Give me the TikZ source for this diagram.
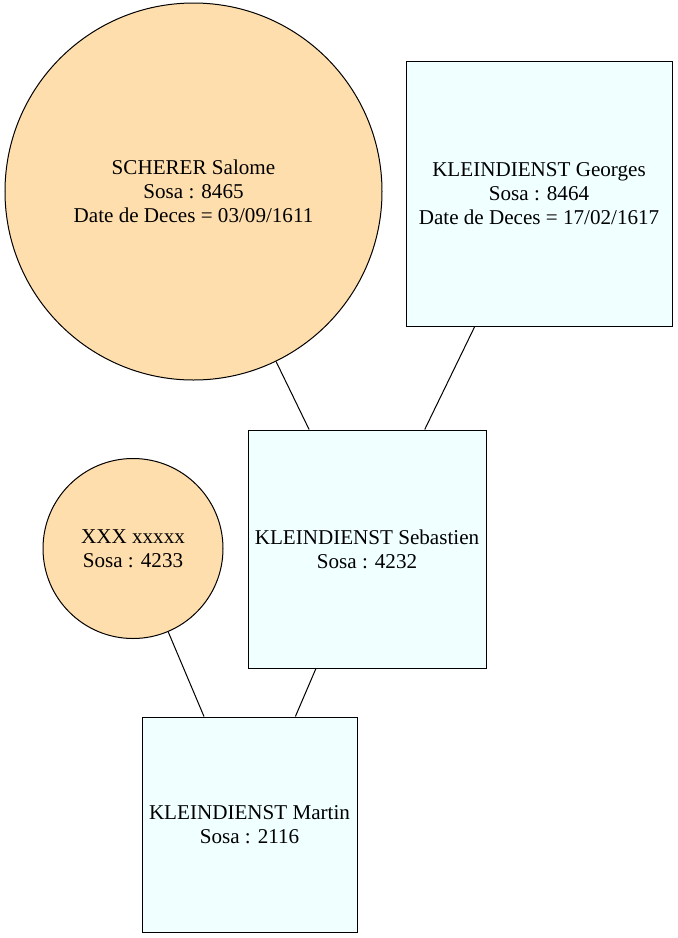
\documentclass[tikz,border=0pt]{standalone}
\usepackage{fontspec}
\setmainfont{Liberation Serif}
\definecolor{fem}{HTML}{FFDEAD}
\definecolor{masc}{HTML}{F0FFFF}
\begin{document}
\begin{tikzpicture}[x=1pt,y=-1pt,
  person/.style={draw=black,line width=1pt,align=center,inner sep=0pt,
    font=\fontsize{21.1}{24}\selectfont},
  woman/.style={person,circle,fill=fem},
  man/.style={person,rectangle,fill=masc},
  link/.style={line width=1pt,draw=black}]
\useasboundingbox[fill=white] (0,0) rectangle (678,938);
\node[woman,minimum size=377pt] (salome) at (193.5,191.5) {SCHERER Salome\\Sosa : 8465\\Date de Deces = 03/09/1611};
\node[man,minimum width=266pt,minimum height=265pt] (georges) at (539,193.5) {KLEINDIENST Georges\\Sosa : 8464\\Date de Deces = 17/02/1617};
\node[man,minimum width=238pt,minimum height=238pt] (sebastien) at (367,549) {KLEINDIENST Sebastien\\Sosa : 4232};
\node[woman,minimum size=180pt] (xxx) at (133,548.5) {XXX xxxxx\\Sosa : 4233};
\node[man,minimum width=215pt,minimum height=215pt] (martin) at (249.5,824.5) {KLEINDIENST Martin\\Sosa : 2116};
\draw[link] (salome) -- (sebastien);
\draw[link] (georges) -- (sebastien);
\draw[link] (xxx) -- (martin);
\draw[link] (sebastien) -- (martin);
\end{tikzpicture}
\end{document}
